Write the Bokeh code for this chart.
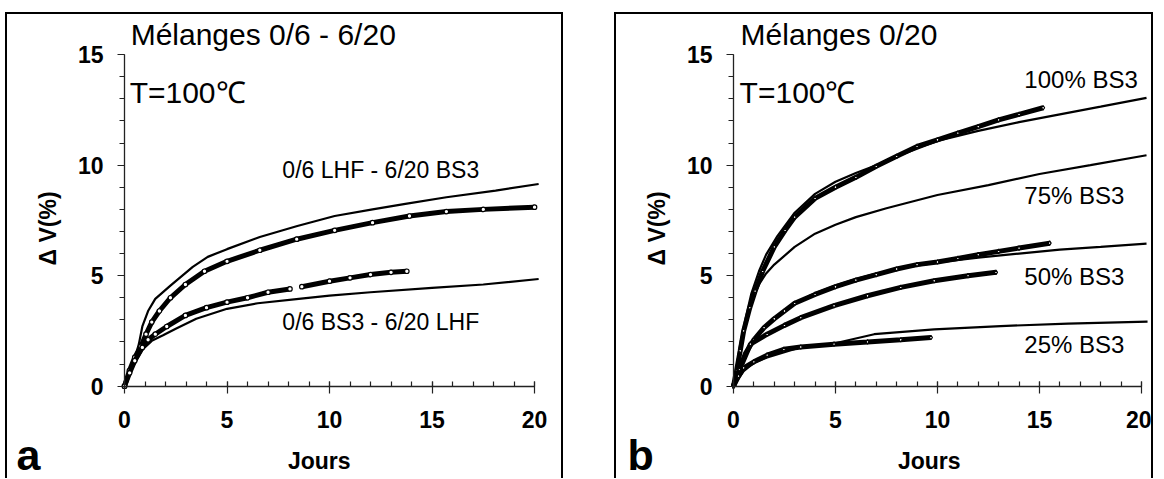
import math
from bokeh.plotting import figure
from bokeh.models import Range1d, Label, FixedTicker, Spacer
from bokeh.layouts import row, column
from bokeh.embed import file_html
from bokeh.resources import INLINE

# ---------------- data ----------------
# Panel a : Mélanges 0/6 - 6/20
a_hi_meas_x = [0, 0.24, 0.5, 0.8, 1.05, 1.33, 1.7, 2.24, 2.97, 3.9, 5.0, 6.6, 8.4, 10.25, 12.1, 13.9, 15.7, 17.5, 20.0]
a_hi_meas_y = [0, 0.7, 1.3, 1.8, 2.35, 2.9, 3.4, 4.0, 4.6, 5.2, 5.65, 6.15, 6.65, 7.05, 7.4, 7.7, 7.9, 8.0, 8.1]
a_hi_fit_x = [0, 0.42, 0.7, 0.87, 1.15, 1.5, 2.24, 3.33, 4.06, 5.0, 6.6, 8.43, 10.25, 12.1, 13.7, 15.7, 18.1, 20.2]
a_hi_fit_y = [0, 1.0, 1.9, 2.7, 3.4, 3.95, 4.55, 5.4, 5.85, 6.2, 6.75, 7.25, 7.7, 8.0, 8.25, 8.55, 8.85, 9.15]
a_lo_meas1_x = [0, 0.25, 0.5, 0.87, 1.15, 1.5, 2.06, 2.97, 4.0, 5.0, 6.0, 7.0, 8.07]
a_lo_meas1_y = [0, 0.6, 1.15, 1.75, 2.1, 2.35, 2.7, 3.2, 3.55, 3.8, 4.0, 4.25, 4.4]
a_lo_meas2_x = [8.65, 10.0, 11.0, 12.0, 13.0, 13.77]
a_lo_meas2_y = [4.5, 4.75, 4.9, 5.05, 5.15, 5.2]
a_lo_fit_x = [0, 0.5, 0.87, 1.33, 1.88, 2.5, 3.5, 5.0, 6.5, 8.5, 10.0, 12.0, 15.0, 17.5, 20.2]
a_lo_fit_y = [0, 1.05, 1.65, 2.05, 2.3, 2.6, 3.05, 3.5, 3.75, 3.95, 4.1, 4.25, 4.45, 4.6, 4.85]

# Panel b : Mélanges 0/20
b100_meas_x = [0, 0.15, 0.33, 0.5, 0.8, 1.06, 1.43, 2.0, 2.53, 3.0, 4.0, 5.0, 6.0, 7.0, 8.0, 9.0, 10.0, 11.0, 12.0, 13.0, 14.0, 15.18]
b100_meas_y = [0, 0.7, 1.6, 2.5, 3.55, 4.3, 5.2, 6.3, 7.05, 7.65, 8.5, 9.0, 9.45, 9.95, 10.4, 10.85, 11.15, 11.45, 11.75, 12.05, 12.3, 12.6]
b100_fit_x = [0, 0.33, 0.6, 0.88, 1.25, 1.6, 2.16, 3.0, 4.0, 5.0, 6.0, 7.0, 8.0, 10.0, 12.0, 14.0, 16.0, 18.0, 20.25]
b100_fit_y = [0, 1.9, 3.1, 4.2, 5.2, 5.95, 6.8, 7.85, 8.7, 9.25, 9.65, 10.0, 10.4, 11.1, 11.55, 11.95, 12.3, 12.65, 13.05]
b75_fit_x = [0, 0.33, 0.6, 0.88, 1.25, 1.6, 2.0, 3.0, 4.0, 5.0, 6.0, 7.5, 10.0, 12.5, 15.0, 17.5, 20.25]
b75_fit_y = [0, 1.8, 2.9, 3.8, 4.6, 5.1, 5.5, 6.3, 6.9, 7.3, 7.65, 8.05, 8.65, 9.1, 9.6, 10.0, 10.45]
b50a_meas_x = [0, 0.3, 0.6, 1.0, 1.5, 2.0, 2.5, 3.0, 4.0, 5.0, 6.0, 7.0, 8.0, 9.0, 10.0, 11.0, 12.0, 13.0, 14.0, 15.5]
b50a_meas_y = [0, 0.8, 1.5, 2.1, 2.65, 3.05, 3.4, 3.75, 4.15, 4.5, 4.8, 5.05, 5.3, 5.5, 5.62, 5.78, 5.95, 6.1, 6.25, 6.47]
b50_fit_x = [0, 0.3, 0.6, 1.0, 1.5, 2.0, 3.0, 4.0, 5.0, 6.0, 7.0, 8.0, 10.0, 12.0, 14.0, 16.0, 18.0, 20.25]
b50_fit_y = [0, 0.9, 1.55, 2.1, 2.65, 3.05, 3.75, 4.2, 4.55, 4.85, 5.1, 5.3, 5.6, 5.82, 6.0, 6.18, 6.3, 6.45]
b50b_meas_x = [0, 0.3, 0.83, 1.65, 2.5, 3.3, 4.93, 6.57, 8.2, 9.84, 11.5, 12.87]
b50b_meas_y = [0, 0.75, 1.9, 2.35, 2.75, 3.1, 3.64, 4.09, 4.47, 4.77, 5.0, 5.15]
b25_meas_x = [0, 0.25, 0.5, 1.0, 1.65, 2.47, 3.3, 4.93, 6.57, 8.2, 9.68]
b25_meas_y = [0, 0.45, 0.83, 1.1, 1.4, 1.67, 1.77, 1.9, 2.0, 2.1, 2.2]
b25_fit_x = [0, 0.5, 1.0, 1.65, 3.3, 4.93, 6.9, 9.84, 13.1, 16.4, 20.3]
b25_fit_y = [0, 0.68, 1.05, 1.3, 1.76, 1.93, 2.35, 2.57, 2.72, 2.83, 2.92]

x_major_ticks = [0, 5, 10, 15, 20]
y_major_ticks = [0, 5, 10, 15]

FONT = "Liberation Sans"
HEIGHT = 466
Y_TOP = 16.82
Y_BOTTOM = Y_TOP - (HEIGHT - 2) / 22.0


def make_panel(width, x_start, x_end):
    p = figure(width=width, height=HEIGHT, x_range=Range1d(x_start, x_end), y_range=Range1d(Y_BOTTOM, Y_TOP),
               output_backend="svg", toolbar_location=None, title=None, min_border=0)
    p.outline_line_color = None
    p.grid.visible = False
    p.background_fill_color = "white"
    p.border_fill_color = "white"
    p.styles = {"border-top": "2px solid #000", "border-left": "2px solid #000",
                "border-right": "2px solid #000", "box-sizing": "border-box"}
    for ax in (p.xaxis[0], p.yaxis[0]):
        ax.fixed_location = 0
        ax.axis_line_color = "#222"
        ax.axis_line_width = 1.3
        ax.major_tick_line_color = "#222"
        ax.minor_tick_line_color = "#222"
        ax.major_tick_line_width = 1.2
        ax.minor_tick_line_width = 1.2
        ax.major_label_text_font = FONT
        ax.major_label_text_font_size = "23px"
        ax.major_label_text_font_style = "bold"
        ax.major_label_text_color = "black"
    p.xaxis.bounds = (0, 20)
    p.yaxis.bounds = (0, 15)
    p.xaxis.ticker = FixedTicker(ticks=x_major_ticks, minor_ticks=list(range(0, 21)))
    p.yaxis.ticker = FixedTicker(ticks=y_major_ticks, minor_ticks=list(range(0, 16)))
    p.xaxis.major_tick_in = 5
    p.xaxis.major_tick_out = 7
    p.xaxis.minor_tick_in = 5
    p.xaxis.minor_tick_out = 0
    p.yaxis.major_tick_in = 0
    p.yaxis.major_tick_out = 7
    p.yaxis.minor_tick_in = 0
    p.yaxis.minor_tick_out = 5
    p.xaxis.major_label_standoff = 18
    p.yaxis.major_label_standoff = 14
    return p


def add_label(p, x, y, text, size, bold=False, align="left", angle=0.0):
    p.add_layout(Label(x=x, y=y, text=text, text_font=FONT, text_font_size=size,
                       text_font_style="bold" if bold else "normal", angle=angle,
                       text_baseline="middle", text_align=align, text_color="black"))


def add_meas(p, xs, ys, marker):
    p.line(xs, ys, line_color="black", line_width=5)
    p.scatter(xs, ys, marker=marker, size=4.5, fill_color="white", line_color="black", line_width=1.2)


def add_fit(p, xs, ys):
    p.line(xs, ys, line_color="black", line_width=2.2)


# ---------------- panel a ----------------
pa = make_panel(558, -5.707, 21.51)
add_fit(pa, a_hi_fit_x, a_hi_fit_y)
add_fit(pa, a_lo_fit_x, a_lo_fit_y)
add_meas(pa, a_hi_meas_x, a_hi_meas_y, "circle")
add_meas(pa, a_lo_meas1_x, a_lo_meas1_y, "circle")
add_meas(pa, a_lo_meas2_x, a_lo_meas2_y, "circle")
add_label(pa, 0.3, 15.9, "Mélanges 0/6 - 6/20", "30px")
add_label(pa, 0.25, 13.3, "T=100℃", "30px")
add_label(pa, 7.7, 9.77, "0/6 LHF - 6/20 BS3", "23px")
add_label(pa, 7.7, 2.89, "0/6 BS3 - 6/20 LHF", "23px")
add_label(pa, -5.27, -3.1, "a", "43px", bold=True)
add_label(pa, 9.5, -3.38, "Jours", "23px", bold=True, align="center")
add_label(pa, -3.73, 7.14, "Δ V(%)", "23px", bold=True, align="center", angle=math.pi / 2)

# ---------------- panel b ----------------
pb = make_panel(539, -5.735, 20.69)
add_fit(pb, b100_fit_x, b100_fit_y)
add_fit(pb, b75_fit_x, b75_fit_y)
add_fit(pb, b50_fit_x, b50_fit_y)
add_fit(pb, b25_fit_x, b25_fit_y)
add_meas(pb, b100_meas_x, b100_meas_y, "diamond")
add_meas(pb, b50a_meas_x, b50a_meas_y, "diamond")
add_meas(pb, b50b_meas_x, b50b_meas_y, "diamond")
add_meas(pb, b25_meas_x, b25_meas_y, "diamond")
add_label(pb, 0.35, 15.9, "Mélanges 0/20", "30px")
add_label(pb, 0.3, 13.3, "T=100℃", "30px")
add_label(pb, 14.26, 13.86, "100% BS3", "24px")
add_label(pb, 14.26, 8.61, "75% BS3", "24px")
add_label(pb, 14.26, 4.98, "50% BS3", "24px")
add_label(pb, 14.26, 1.89, "25% BS3", "24px")
add_label(pb, -5.2, -3.1, "b", "43px", bold=True)
add_label(pb, 9.6, -3.38, "Jours", "23px", bold=True, align="center")
add_label(pb, -3.73, 7.14, "Δ V(%)", "23px", bold=True, align="center", angle=math.pi / 2)

layout = column(Spacer(height=12), row(Spacer(width=5), pa, Spacer(width=51), pb))

open("out.html", "w").write(file_html(layout, INLINE))
